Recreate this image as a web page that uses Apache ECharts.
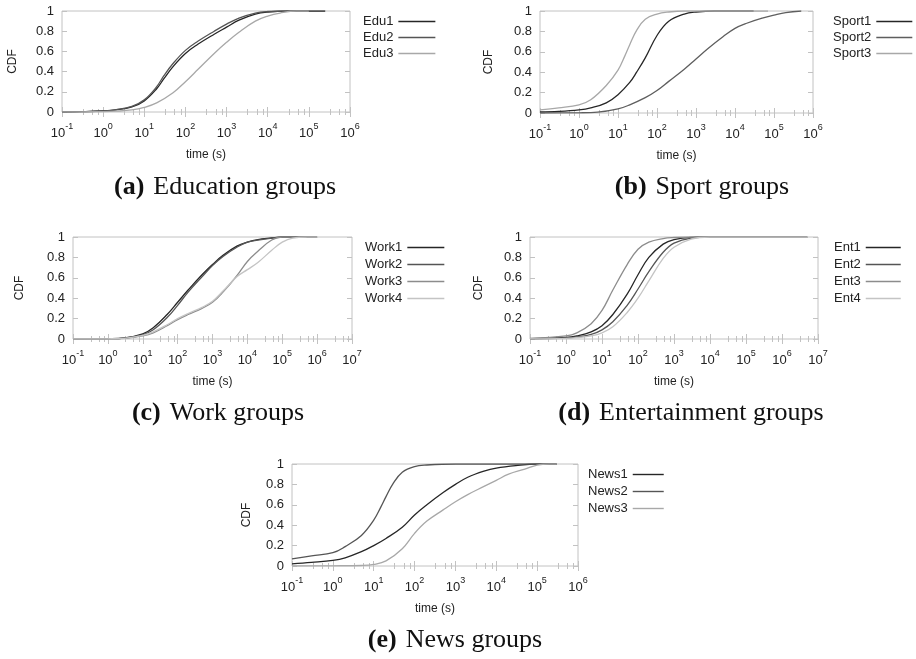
<!DOCTYPE html>
<html>
<head>
<meta charset="utf-8">
<title>CDF of group time by category</title>
<script src="https://cdn.jsdelivr.net/npm/echarts@6/dist/echarts.min.js"></script>
<style>
  html, body { margin: 0; padding: 0; background: #fff; }
  #chart { width: 916px; height: 659px; }
</style>
</head>
<body>
<div id="chart"></div>
<script>
// ---- Education groups ----
const eduTime1 = [0.1, 0.3, 1, 2, 5, 10, 20, 30, 50, 100, 200, 500, 1000, 2000, 5000, 10000, 30000, 250000];
const eduCdf1  = [0, 0.003, 0.01, 0.02, 0.05, 0.11, 0.23, 0.33, 0.45, 0.58, 0.67, 0.77, 0.84, 0.91, 0.97, 0.99, 1, 1];
const eduTime2 = [0.1, 0.3, 1, 2, 5, 10, 20, 30, 50, 100, 200, 500, 1000, 2000, 5000, 10000, 30000, 100000];
const eduCdf2  = [0, 0.003, 0.01, 0.022, 0.055, 0.12, 0.25, 0.36, 0.48, 0.61, 0.70, 0.80, 0.87, 0.93, 0.98, 0.995, 1, 1];
const eduTime3 = [0.1, 0.3, 1, 2, 5, 10, 20, 50, 100, 200, 500, 1000, 2000, 5000, 10000, 20000, 50000, 100000];
const eduCdf3  = [0, 0.002, 0.004, 0.008, 0.02, 0.045, 0.09, 0.19, 0.30, 0.42, 0.58, 0.69, 0.79, 0.90, 0.95, 0.98, 1, 1];

// ---- Sport groups ----
const sportTime1 = [0.1, 0.3, 1, 2, 5, 10, 20, 30, 50, 100, 200, 500, 1000, 3000, 30000];
const sportCdf1  = [0.01, 0.015, 0.03, 0.05, 0.1, 0.18, 0.3, 0.4, 0.54, 0.76, 0.9, 0.97, 0.99, 1, 1];
const sportTime2 = [0.1, 1, 3, 10, 20, 50, 100, 200, 500, 1000, 2000, 5000, 10000, 20000, 50000, 100000, 200000, 500000];
const sportCdf2  = [0, 0.002, 0.008, 0.04, 0.08, 0.15, 0.22, 0.31, 0.43, 0.53, 0.63, 0.75, 0.83, 0.88, 0.93, 0.96, 0.985, 1];
const sportTime3 = [0.1, 0.3, 1, 2, 5, 10, 15, 20, 30, 50, 100, 200, 500, 70000];
const sportCdf3  = [0.03, 0.05, 0.08, 0.13, 0.27, 0.42, 0.56, 0.67, 0.81, 0.92, 0.97, 0.99, 1, 1];

// ---- Work groups ----
const workTime1 = [0.1, 1, 3, 10, 20, 50, 100, 200, 500, 1000, 2000, 5000, 10000, 20000, 50000, 100000, 1000000];
const workCdf1  = [0, 0.003, 0.01, 0.05, 0.11, 0.24, 0.36, 0.48, 0.63, 0.73, 0.82, 0.91, 0.95, 0.975, 0.99, 1, 1];
const workTime2 = [0.1, 1, 3, 10, 20, 50, 100, 200, 500, 1000, 2000, 5000, 10000, 20000, 50000, 100000, 500000];
const workCdf2  = [0, 0.003, 0.009, 0.04, 0.09, 0.21, 0.33, 0.46, 0.61, 0.72, 0.81, 0.9, 0.95, 0.97, 0.99, 1, 1];
const workTime3 = [0.1, 1, 3, 10, 20, 50, 100, 200, 500, 1000, 2000, 5000, 10000, 20000, 50000, 100000, 500000];
const workCdf3  = [0, 0.002, 0.006, 0.03, 0.06, 0.13, 0.19, 0.24, 0.3, 0.36, 0.46, 0.62, 0.76, 0.86, 0.97, 1, 1];
const workTime4 = [0.1, 1, 3, 10, 20, 50, 100, 200, 500, 1000, 2000, 5000, 10000, 20000, 50000, 100000, 200000, 500000, 1000000];
const workCdf4  = [0, 0.002, 0.007, 0.035, 0.07, 0.14, 0.2, 0.25, 0.31, 0.37, 0.47, 0.61, 0.68, 0.75, 0.87, 0.95, 0.99, 1, 1];

// ---- Entertainment groups ----
const entTime = [0.1, 1, 2, 5, 10, 20, 50, 100, 200, 500, 1000, 3000, 10000, 5000000];
const entCdf1 = [0.003, 0.015, 0.03, 0.07, 0.13, 0.24, 0.44, 0.63, 0.8, 0.93, 0.975, 0.997, 1, 1];
const entCdf2 = [0.002, 0.01, 0.02, 0.045, 0.09, 0.17, 0.33, 0.49, 0.66, 0.85, 0.94, 0.99, 1, 1];
const entCdf3 = [0.005, 0.03, 0.06, 0.15, 0.28, 0.48, 0.73, 0.88, 0.95, 0.985, 0.995, 1, 1, 1];
const entCdf4 = [0.001, 0.007, 0.014, 0.03, 0.06, 0.12, 0.26, 0.4, 0.57, 0.79, 0.9, 0.98, 1, 1];

// ---- News groups ----
const newsTime1 = [0.1, 0.3, 1, 2, 5, 10, 20, 50, 100, 200, 500, 1000, 2000, 5000, 10000, 30000, 100000, 300000];
const newsCdf1  = [0.02, 0.035, 0.055, 0.08, 0.14, 0.2, 0.27, 0.38, 0.5, 0.6, 0.72, 0.8, 0.87, 0.93, 0.96, 0.985, 1, 1];
const newsTime2 = [0.1, 0.3, 1, 2, 5, 10, 15, 20, 30, 50, 100, 200, 1000, 300000];
const newsCdf2  = [0.07, 0.1, 0.13, 0.19, 0.3, 0.45, 0.58, 0.68, 0.81, 0.92, 0.975, 0.99, 1, 1];
const newsTime3 = [0.1, 1, 5, 10, 20, 50, 100, 200, 500, 1000, 2000, 5000, 10000, 20000, 50000, 100000, 200000, 300000];
const newsCdf3  = [0, 0.002, 0.005, 0.015, 0.05, 0.17, 0.32, 0.44, 0.55, 0.63, 0.7, 0.78, 0.84, 0.9, 0.95, 0.99, 1, 1];

const cdfTicks = [0, 0.2, 0.4, 0.6, 0.8, 1];

const SANS = "'Liberation Sans', Arial, Helvetica, sans-serif";
const SERIF = "'Liberation Serif', 'Times New Roman', serif";
const INK = '#222';
const FRAME = '#c2c2c2';

const panels = [
  {
    grid: { left: 62, top: 11, width: 288, height: 101 }, xMax: 1e6, cdfGap: 43,
    legend: { left: 363, top: 15, itemWidth: 37, itemGap: 3 },
    caption: { x: 225, y: 187, tag: '(a)', text: 'Education groups' },
    lines: [
      { name: 'Edu1', t: eduTime1, c: eduCdf1, color: '#262626' },
      { name: 'Edu2', t: eduTime2, c: eduCdf2, color: '#555555' },
      { name: 'Edu3', t: eduTime3, c: eduCdf3, color: '#a8a8a8' }
    ]
  },
  {
    grid: { left: 540, top: 11, width: 273, height: 102 }, xMax: 1e6, cdfGap: 45,
    legend: { left: 833, top: 15, itemWidth: 36, itemGap: 3 },
    caption: { x: 702, y: 187, tag: '(b)', text: 'Sport groups' },
    lines: [
      { name: 'Sport1', t: sportTime1, c: sportCdf1, color: '#262626' },
      { name: 'Sport2', t: sportTime2, c: sportCdf2, color: '#5e5e5e' },
      { name: 'Sport3', t: sportTime3, c: sportCdf3, color: '#a8a8a8' }
    ]
  },
  {
    grid: { left: 73, top: 237, width: 279, height: 102 }, xMax: 1e7, cdfGap: 47,
    legend: { left: 365, top: 241, itemWidth: 37, itemGap: 4 },
    caption: { x: 218, y: 413, tag: '(c)', text: 'Work groups' },
    lines: [
      { name: 'Work1', t: workTime1, c: workCdf1, color: '#262626' },
      { name: 'Work2', t: workTime2, c: workCdf2, color: '#555555' },
      { name: 'Work3', t: workTime3, c: workCdf3, color: '#8c8c8c' },
      { name: 'Work4', t: workTime4, c: workCdf4, color: '#c4c4c4' }
    ]
  },
  {
    grid: { left: 530, top: 237, width: 288, height: 102 }, xMax: 1e7, cdfGap: 45,
    legend: { left: 834, top: 241, itemWidth: 35, itemGap: 4 },
    caption: { x: 691, y: 413, tag: '(d)', text: 'Entertainment groups' },
    lines: [
      { name: 'Ent1', t: entTime, c: entCdf1, color: '#262626' },
      { name: 'Ent2', t: entTime, c: entCdf2, color: '#555555' },
      { name: 'Ent3', t: entTime, c: entCdf3, color: '#8c8c8c' },
      { name: 'Ent4', t: entTime, c: entCdf4, color: '#c4c4c4' }
    ]
  },
  {
    grid: { left: 292, top: 464, width: 286, height: 102 }, xMax: 1e6, cdfGap: 39,
    legend: { left: 588, top: 468, itemWidth: 31, itemGap: 4 },
    caption: { x: 455, y: 640, tag: '(e)', text: 'News groups' },
    lines: [
      { name: 'News1', t: newsTime1, c: newsCdf1, color: '#262626' },
      { name: 'News2', t: newsTime2, c: newsCdf2, color: '#555555' },
      { name: 'News3', t: newsTime3, c: newsCdf3, color: '#a8a8a8' }
    ]
  }
];

const tickStyle = { inside: true, length: 5, lineStyle: { color: FRAME, width: 1 } };
const minorStyle = { show: true, splitNumber: 4, length: 3, lineStyle: { color: FRAME, width: 1 } };
// a thin horizontal bar, as long as the key, used as the legend sample
const legendKey = w => 'path://M0,0H' + w + 'V1.4H0Z';

const grid = [], xAxis = [], yAxis = [], series = [], legend = [], graphic = [];

panels.forEach((p, i) => {
  grid.push(Object.assign({ show: true, borderColor: FRAME, borderWidth: 1, backgroundColor: 'transparent' }, p.grid));

  const logAxis = {
    type: 'log', logBase: 10, gridIndex: i, min: 0.1, max: p.xMax,
    axisLine: { show: false }, axisTick: tickStyle, minorTick: minorStyle,
    splitLine: { show: false }, minorSplitLine: { show: false }
  };
  // bottom axis with powers of ten as labels
  xAxis.push(Object.assign({}, logAxis, {
    position: 'bottom',
    axisLabel: {
      margin: 10,
      formatter: v => '{b|10}{s|' + Math.round(Math.log10(v)) + '}',
      rich: {
        b: { fontFamily: SANS, fontSize: 13, color: INK, lineHeight: 22 },
        s: { fontFamily: SANS, fontSize: 9, color: INK, verticalAlign: 'top', lineHeight: 22 }
      }
    },
    name: 'time (s)', nameLocation: 'middle', nameGap: 37,
    nameTextStyle: { fontFamily: SANS, fontSize: 12, color: INK }
  }));
  // mirrored ticks along the top edge
  xAxis.push(Object.assign({}, logAxis, { position: 'top', axisLabel: { show: false } }));

  const cdfAxis = {
    type: 'value', gridIndex: i, min: cdfTicks[0], max: cdfTicks[cdfTicks.length - 1], interval: 0.2,
    axisLine: { show: false }, axisTick: tickStyle, splitLine: { show: false }
  };
  yAxis.push(Object.assign({}, cdfAxis, {
    position: 'left',
    axisLabel: { margin: 8, fontFamily: SANS, fontSize: 13, color: INK },
    name: 'CDF', nameLocation: 'middle', nameGap: p.cdfGap,
    nameTextStyle: { fontFamily: SANS, fontSize: 12, color: INK }
  }));
  yAxis.push(Object.assign({}, cdfAxis, { position: 'right', axisLabel: { show: false } }));

  p.lines.forEach(l => {
    series.push({
      type: 'line', name: l.name,
      xAxisIndex: 2 * i, yAxisIndex: 2 * i,
      data: l.t.map((t, k) => [t, l.c[k]]),
      symbol: 'none', showSymbol: false,
      smooth: 0.4,
      lineStyle: { color: l.color, width: 1.3 },
      itemStyle: { color: l.color },
      emphasis: { disabled: true },
      z: 3
    });
  });

  legend.push({
    data: p.lines.map(l => ({ name: l.name, icon: legendKey(p.legend.itemWidth) })),
    orient: 'vertical', align: 'right', padding: 0,
    left: p.legend.left, top: p.legend.top,
    itemWidth: p.legend.itemWidth, itemHeight: 14, itemGap: p.legend.itemGap,
    selectedMode: false,
    textStyle: { fontFamily: SANS, fontSize: 13, color: INK }
  });

  graphic.push({
    type: 'text',
    x: p.caption.x, y: p.caption.y,
    style: {
      text: '{t|' + p.caption.tag + '}{n|' + p.caption.text + '}',
      align: 'center', verticalAlign: 'middle',
      rich: {
        t: { fontFamily: SERIF, fontWeight: 'bold', fontSize: 26, fill: '#111' },
        n: { fontFamily: SERIF, fontSize: 26, fill: '#111', padding: [0, 0, 0, 9] }
      }
    }
  });
});

const chart = echarts.init(document.getElementById('chart'), null, { renderer: 'canvas' });
chart.setOption({
  animation: false,
  backgroundColor: '#fff',
  grid, xAxis, yAxis, series, legend, graphic
});
</script>
</body>
</html>
